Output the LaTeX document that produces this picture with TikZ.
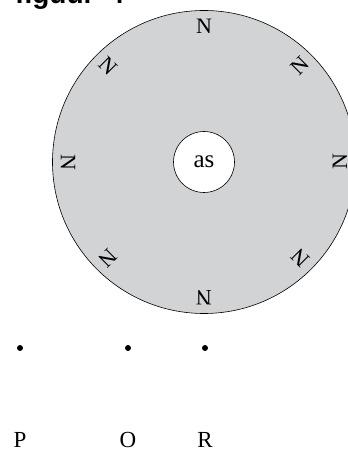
\documentclass[tikz,border=0pt]{standalone}
\usepackage{fontspec}
\setmainfont{Liberation Serif}
\newfontfamily\titlefont{Liberation Sans}
\usetikzlibrary{positioning}
\usepackage{xcolor}
\definecolor{discgrey}{HTML}{D1D3D4}

\begin{document}
\begin{tikzpicture}[
        x=1pt, y=1pt,
        disc/.style={circle, draw=black, fill=discgrey, line width=0.6pt,
          minimum size=303pt, inner sep=0pt},
        hole/.style={circle, draw=black, fill=white, line width=0.6pt,
          minimum size=61pt, inner sep=0pt, font=\fontsize{25}{28}\selectfont},
        pole/.style={inner sep=0pt, font=\fontsize{22}{25}\selectfont},
        spot/.style={circle, fill=black, minimum size=6pt, inner sep=0pt},
        lbl/.style={inner sep=0pt, font=\fontsize{23}{26}\selectfont},
        heading/.style={inner sep=0pt, anchor=base west,
          font=\titlefont\bfseries\fontsize{28}{32}\selectfont},
      ]
      \useasboundingbox (0,0) rectangle (348,450);
      \clip (0,0) rectangle (348,450);

      % Title (cut off at the top)
      \node[heading] (title) at (15,446) {figuur\hspace{0.5em}4};

      % Magnet ring with hole
      \node[disc] (ring) at (204,288) {};
      \node[hole] (as) at (ring.center) {as};

      % Poles round the ring
      \foreach \a in {0,45,...,315}
        \node[pole, rotate=90-\a] (n\a) at ([shift={(\a:136)}]ring.center) {N};

      % Points
      \node[spot] (p) at (20,102) {};
      \node[spot] (o) at (128,102) {};
      \node[spot] (r) at (205,102) {};

      % Labels
      \node[lbl] (plbl) at (20,10) {P};
      \node[lbl] (olbl) at (128,10) {O};
      \node[lbl] (rlbl) at (205,10) {R};

      \end{tikzpicture}
\end{document}
